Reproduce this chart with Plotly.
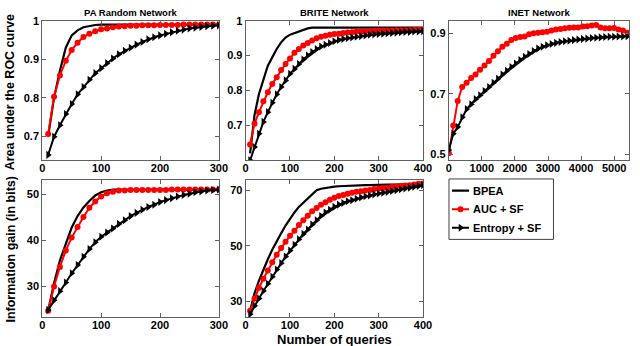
import plotly.graph_objects as go

# ---- data ----
q_pa = list(range(10, 310, 10))
q_brite = list(range(10, 410, 10))
q_inet = [0, 135, 270, 405, 540, 675, 810, 945, 1080, 1215, 1350, 1485, 1620, 1755,
          1890, 2025, 2160, 2295, 2430, 2565, 2700, 2835, 2970, 3105, 3240, 3375, 3510,
          3645, 3780, 3915, 4050, 4185, 4320, 4455, 4590, 4725, 4860, 4995, 5130, 5265, 5400]

# AUC, PA random network
pa_auc_bpea = [0.70, 0.80, 0.87, 0.93, 0.962, 0.975, 0.983, 0.987, 0.989, 0.99,
               0.99, 0.99, 0.99, 0.99, 0.99, 0.99, 0.99, 0.99, 0.99, 0.99,
               0.99, 0.99, 0.99, 0.99, 0.99, 0.99, 0.99, 0.99, 0.99, 0.99]
pa_auc_sf = [0.706, 0.803, 0.858, 0.896, 0.924, 0.943, 0.958, 0.966, 0.973, 0.978,
             0.980, 0.983, 0.985, 0.986, 0.987, 0.987, 0.988, 0.988, 0.988, 0.989,
             0.989, 0.989, 0.989, 0.990, 0.990, 0.990, 0.990, 0.990, 0.990, 0.990]
pa_auc_ent = [0.652, 0.699, 0.729, 0.758, 0.784, 0.809, 0.828, 0.847, 0.864, 0.877,
              0.890, 0.902, 0.913, 0.922, 0.930, 0.938, 0.945, 0.952, 0.957, 0.962,
              0.966, 0.970, 0.974, 0.977, 0.980, 0.982, 0.984, 0.986, 0.987, 0.988]

# AUC, BRITE network
br_auc_bpea = [0.62, 0.73, 0.79, 0.833, 0.871, 0.895, 0.919, 0.938, 0.952, 0.960,
               0.965, 0.970, 0.974, 0.978, 0.980, 0.980, 0.980, 0.980, 0.980, 0.980,
               0.980, 0.980, 0.980, 0.980, 0.980, 0.980, 0.980, 0.980, 0.980, 0.980,
               0.980, 0.980, 0.980, 0.980, 0.980, 0.980, 0.980, 0.980, 0.980, 0.980]
br_auc_sf = [0.645, 0.705, 0.738, 0.769, 0.795, 0.819, 0.838, 0.859, 0.876, 0.892,
             0.908, 0.919, 0.929, 0.936, 0.943, 0.950, 0.954, 0.957, 0.960, 0.962,
             0.963, 0.965, 0.966, 0.967, 0.969, 0.969, 0.970, 0.970, 0.971, 0.971,
             0.972, 0.972, 0.972, 0.973, 0.973, 0.973, 0.973, 0.974, 0.974, 0.974]
br_auc_ent = [0.600, 0.638, 0.676, 0.710, 0.738, 0.765, 0.789, 0.810, 0.829, 0.848,
              0.862, 0.876, 0.889, 0.900, 0.910, 0.919, 0.926, 0.931, 0.936, 0.941,
              0.945, 0.948, 0.950, 0.952, 0.954, 0.956, 0.958, 0.960, 0.961, 0.962,
              0.963, 0.964, 0.965, 0.966, 0.967, 0.968, 0.968, 0.969, 0.969, 0.970]

# AUC, INET network
in_auc_sf = [0.503, 0.595, 0.676, 0.722, 0.736, 0.752, 0.763, 0.779, 0.793, 0.808,
             0.825, 0.840, 0.855, 0.865, 0.877, 0.884, 0.887, 0.889, 0.896, 0.900,
             0.901, 0.903, 0.905, 0.909, 0.912, 0.914, 0.916, 0.918, 0.919, 0.919,
             0.922, 0.923, 0.925, 0.927, 0.919, 0.916, 0.916, 0.917, 0.912, 0.909, 0.901]
in_auc_ent = [0.514, 0.568, 0.590, 0.622, 0.649, 0.665, 0.682, 0.695, 0.709, 0.722,
              0.736, 0.749, 0.763, 0.776, 0.788, 0.800, 0.811, 0.822, 0.831, 0.841,
              0.849, 0.855, 0.860, 0.864, 0.868, 0.871, 0.873, 0.875, 0.877, 0.879,
              0.881, 0.882, 0.884, 0.885, 0.886, 0.887, 0.888, 0.888, 0.889, 0.889, 0.890]

# Information gain, PA random network
pa_ig_bpea = [24.6, 30.6, 35.6, 39.2, 42.8, 45.3, 47.2, 48.6, 49.8, 50.5,
              50.9, 51.1, 51.1, 51.1, 51.1, 51.1, 51.1, 51.1, 51.1, 51.1,
              51.1, 51.1, 51.1, 51.1, 51.1, 51.1, 51.1, 51.1, 51.1, 51.1]
pa_ig_sf = [24.6, 29.9, 34.2, 37.8, 40.6, 42.9, 45.1, 47.1, 48.5, 49.6,
            50.3, 50.6, 50.9, 50.9, 51.0, 51.0, 51.0, 51.0, 51.0, 51.0,
            51.0, 51.1, 51.1, 51.1, 51.1, 51.1, 51.1, 51.1, 51.1, 51.1]
pa_ig_ent = [24.8, 26.9, 28.9, 30.8, 32.8, 34.6, 36.4, 38.1, 39.6, 40.8,
             41.7, 42.6, 43.6, 44.4, 45.3, 46.0, 46.7, 47.3, 47.8, 48.4,
             48.8, 49.2, 49.6, 49.9, 50.2, 50.5, 50.7, 50.9, 51.0, 51.1]

# Information gain, BRITE network
br_ig_bpea = [26.7, 33.0, 37.5, 41.5, 45.2, 48.6, 51.7, 54.5, 57.3, 59.8,
              62.0, 64.0, 65.5, 66.9, 68.5, 70.0, 70.5, 70.8, 71.1, 71.3,
              71.4, 71.5, 71.6, 71.6, 71.7, 71.7, 71.8, 71.8, 71.9, 71.9,
              71.9, 72.0, 72.0, 72.0, 72.0, 72.1, 72.1, 72.1, 72.2, 72.2]
br_ig_sf = [26.7, 31.1, 35.0, 38.2, 41.2, 44.1, 46.8, 49.2, 51.5, 53.6,
            55.4, 57.5, 59.2, 60.8, 62.4, 63.6, 64.8, 65.7, 66.6, 67.3,
            67.9, 68.3, 68.7, 69.1, 69.4, 69.6, 69.9, 70.1, 70.4, 70.6,
            70.8, 70.9, 71.1, 71.3, 71.5, 71.7, 71.8, 72.0, 72.3, 72.5]
br_ig_ent = [25.5, 28.5, 31.1, 33.8, 36.4, 38.9, 41.5, 43.8, 46.2, 48.3,
             50.4, 52.4, 54.3, 55.9, 57.7, 59.2, 60.7, 62.0, 63.0, 64.0,
             64.8, 65.4, 66.0, 66.4, 66.9, 67.4, 67.8, 68.1, 68.5, 68.8,
             69.1, 69.4, 69.7, 70.0, 70.3, 70.6, 70.9, 71.2, 71.5, 71.8]

legend_names = ["BPEA", "AUC + SF", "Entropy + SF"]

W, H = 640, 346
FONT = "Liberation Sans"


def px_x(a, b):
    return [a / W, b / W]


def px_y(top, bottom):
    return [1 - bottom / H, 1 - top / H]


STY = {
    "BPEA": dict(mode="lines", line=dict(color="black", width=2.2)),
    "AUC + SF": dict(mode="lines+markers", line=dict(color="red", width=2),
                     marker=dict(symbol="circle", size=6, color="red")),
    "Entropy + SF": dict(mode="lines+markers", line=dict(color="black", width=2),
                         marker=dict(symbol="triangle-right", size=7, color="black")),
}

fig = go.Figure()


def add_panel(n, x, bpea, sf, ent):
    xa = "x" if n == 1 else "x%d" % n
    ya = "y" if n == 1 else "y%d" % n
    for name, y in zip(legend_names, [bpea, sf, ent]):
        if y is None:
            continue
        fig.add_trace(go.Scatter(x=x, y=y, name=name, xaxis=xa, yaxis=ya,
                                 showlegend=False, **STY[name]))


add_panel(1, q_pa, pa_auc_bpea, pa_auc_sf, pa_auc_ent)
add_panel(2, q_brite, br_auc_bpea, br_auc_sf, br_auc_ent)
add_panel(3, q_inet, None, in_auc_sf, in_auc_ent)
add_panel(4, q_pa, pa_ig_bpea, pa_ig_sf, pa_ig_ent)
add_panel(5, q_brite, br_ig_bpea, br_ig_sf, br_ig_ent)

# legend samples drawn on a small hidden axis (rows 0.5, 1.5, 2.5)
for i, name in enumerate(legend_names):
    row = i + 0.5
    fig.add_trace(go.Scatter(x=[0, 1], y=[row, row], mode="lines", line=STY[name]["line"],
                             xaxis="x6", yaxis="y6", showlegend=False, hoverinfo="skip"))
    if "marker" in STY[name]:
        fig.add_trace(go.Scatter(x=[0.5], y=[row], mode="markers", marker=STY[name]["marker"],
                                 xaxis="x6", yaxis="y6", showlegend=False, hoverinfo="skip"))

tickfont = dict(family=FONT, size=11, color="black", weight="bold")


def ax(domain, rng, tickvals, ticktext=None, anchor=None, standoff=0):
    d = dict(domain=domain, range=rng, tickvals=tickvals, showgrid=False,
             zeroline=False, showline=True, linecolor="#606060", linewidth=1,
             mirror="ticks", ticks="inside", ticklen=4, tickcolor="#606060",
             tickfont=tickfont, anchor=anchor, ticklabelstandoff=standoff)
    if ticktext is not None:
        d["ticktext"] = ticktext
    return d


top_y = px_y(15, 157)
bot_y = px_y(177.5, 316.7)
c1 = px_x(40, 220)
c2 = px_x(247.3, 428)
c3 = px_x(454.3, 638)
XS = -2

fig.update_layout(
    xaxis=ax(c1, [0, 300], [0, 100, 200, 300], anchor="y", standoff=XS),
    yaxis=ax(top_y, [0.638, 1.0], [0.7, 0.8, 0.9, 1.0], ["0.7", "0.8", "0.9", "1"], anchor="x"),
    xaxis2=ax(c2, [0, 400], [0, 100, 200, 300, 400], anchor="y2", standoff=XS),
    yaxis2=ax(top_y, [0.6, 1.0], [0.7, 0.8, 0.9, 1.0], ["0.7", "0.8", "0.9", "1"], anchor="x2"),
    xaxis3=ax(c3, [0, 5450], [0, 1000, 2000, 3000, 4000, 5000], anchor="y3", standoff=XS),
    yaxis3=ax(top_y, [0.48, 0.941], [0.5, 0.7, 0.9], anchor="x3"),
    xaxis4=ax(c1, [0, 300], [0, 100, 200, 300], anchor="y4", standoff=XS),
    yaxis4=ax(bot_y, [23.2, 53.1], [30, 40, 50], anchor="x4"),
    xaxis5=ax(c2, [0, 400], [0, 100, 200, 300, 400], anchor="y5", standoff=XS),
    yaxis5=ax(bot_y, [24.4, 73.5], [30, 50, 70], anchor="x5"),
    xaxis6=dict(domain=px_x(457.5, 475), range=[0, 1], visible=False, anchor="y6"),
    yaxis6=dict(domain=px_y(176.5, 237), range=[3.1, -0.1], visible=False, anchor="x6"),
)

shapes = [dict(type="rect", xref="paper", yref="paper",
               x0=454.5 / W, x1=561 / W, y0=1 - 237.5 / H, y1=1 - 176 / H,
               line=dict(color="#404040", width=1), fillcolor="rgba(0,0,0,0)")]

titles = [("PA Random Network", 130), ("BRITE Network", 337.5), ("INET Network", 546)]
annots = []
for t, cx in titles:
    annots.append(dict(text=t, x=cx / W, y=1 - 7 / H, xref="paper", yref="paper",
                       showarrow=False, xanchor="center", yanchor="middle",
                       font=dict(family=FONT, size=9.5, color="black", weight="bold")))
for i, name in enumerate(legend_names):
    annots.append(dict(text=name, x=476.5 / W, y=i + 0.5, xref="paper", yref="y6",
                       showarrow=False, xanchor="left", yanchor="middle",
                       font=dict(family=FONT, size=11, color="black", weight="bold")))
annots.append(dict(text="Number of queries", x=338 / W, y=1 - 339.5 / H,
                   xref="paper", yref="paper", showarrow=False,
                   xanchor="center", yanchor="middle",
                   font=dict(family=FONT, size=13, color="black", weight="bold")))
annots.append(dict(text="Area under the ROC curve", x=8 / W, y=1 - 88 / H,
                   xref="paper", yref="paper", showarrow=False, textangle=-90,
                   xanchor="center", yanchor="middle",
                   font=dict(family=FONT, size=12.5, color="black", weight="bold")))
annots.append(dict(text="Information gain (in bits)", x=8 / W, y=1 - 247 / H,
                   xref="paper", yref="paper", showarrow=False, textangle=-90,
                   xanchor="center", yanchor="middle",
                   font=dict(family=FONT, size=12.5, color="black", weight="bold")))

fig.update_layout(
    width=W, height=H,
    margin=dict(l=0, r=0, t=0, b=0),
    paper_bgcolor="white", plot_bgcolor="white",
    annotations=annots, shapes=shapes,
    showlegend=False,
)

# the page body has a default 8px margin, which would push the figure off the window
fig.write_html("out.html", config={"displayModeBar": False},
               post_script="document.body.style.margin = '0';")
